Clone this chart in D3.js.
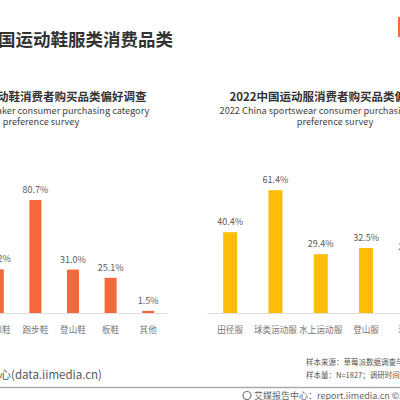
<!DOCTYPE html>
<head>
  <meta charset="utf-8">
  <script src="https://d3js.org/d3.v7.min.js"></script>
  <style>
    body { margin: 0; background: #fff; }
    svg { display: block; }
    text { font-family: "Noto Sans CJK SC", "Noto Sans", sans-serif; }
  </style>
</head>
<body>
<script>
  // left chart: sneakers
  var shoeCats = ["篮球鞋", "跑步鞋", "登山鞋", "板鞋", "其他"];
  var shoeVals = [31.2, 80.7, 31.0, 25.1, 1.5];
  // right chart: sportswear
  var wearCats = ["田径服", "球类运动服", "水上运动服", "登山服", "瑜伽服"];
  var wearVals = [40.4, 61.4, 29.4, 32.5, 27.8];

  var width = 400, height = 400, baseY = 313;

  var svg = d3.select("body").append("svg")
    .attr("width", width)
    .attr("height", height);

  // main title (cropped on the left)
  svg.append("text")
    .attr("x", 173).attr("y", 46)
    .attr("text-anchor", "end")
    .attr("font-size", 17.5).attr("font-weight", 700)
    .attr("fill", "#333")
    .text("2022年中国运动鞋服类消费品类");

  // little orange mark at the top right
  svg.append("rect")
    .attr("x", 398).attr("y", 17).attr("width", 4).attr("height", 20)
    .attr("fill", "#F26B3A");

  function drawChart(cats, vals, opt) {
    var x = d3.scalePoint().domain(cats).range(opt.xRange).padding(0.5);
    var y = d3.scaleLinear().domain([0, 100]).range([baseY, baseY - opt.pxPer100]);
    var g = svg.append("g");

    // titles
    g.append("text").attr("x", opt.cx).attr("y", 101)
      .attr("text-anchor", "middle").attr("font-size", 11.5).attr("font-weight", 700)
      .attr("fill", "#333").text(opt.title);
    g.append("text").attr("x", opt.cx).attr("y", 114)
      .attr("text-anchor", "middle").attr("font-size", 9.2).attr("fill", "#444")
      .text(opt.en1);
    g.append("text").attr("x", opt.cx).attr("y", 124.5)
      .attr("text-anchor", "middle").attr("font-size", 9.2).attr("fill", "#444")
      .text("preference survey");

    // axis line
    g.append("line")
      .attr("x1", opt.xRange[0]).attr("x2", opt.xRange[1])
      .attr("y1", baseY + 0.5).attr("y2", baseY + 0.5)
      .attr("stroke", "#ddd").attr("stroke-width", 1);

    g.selectAll(".bar").data(vals).enter().append("rect")
      .attr("x", function(d, i) { return x(cats[i]) - opt.barW / 2; })
      .attr("y", function(d) { return y(d); })
      .attr("width", opt.barW)
      .attr("height", function(d) { return baseY - y(d); })
      .attr("fill", opt.color);

    g.selectAll(".val").data(vals).enter().append("text")
      .attr("x", function(d, i) { return x(cats[i]); })
      .attr("y", function(d) { return y(d) - 7; })
      .attr("text-anchor", "middle").attr("font-size", 9).attr("fill", "#595959")
      .text(function(d) { return d.toFixed(1) + "%"; });

    g.selectAll(".cat").data(cats).enter().append("text")
      .attr("x", function(d) { return x(d); })
      .attr("y", 333)
      .attr("text-anchor", "middle").attr("font-size", 8.6).attr("fill", "#777")
      .text(function(d) { return d; });
  }

  drawChart(shoeCats, shoeVals, {
    xRange: [-21, 167], pxPer100: 140, barW: 12, color: "#F4683C", cx: 41,
    title: "2022中国运动鞋消费者购买品类偏好调查",
    en1: "2022 China sneaker consumer purchasing category"
  });
  drawChart(wearCats, wearVals, {
    xRange: [207.5, 434], pxPer100: 200, barW: 14, color: "#FBBD08", cx: 335,
    title: "2022中国运动服消费者购买品类偏好调查",
    en1: "2022 China sportswear consumer purchasing category"
  });

  // sources
  svg.append("text").attr("x", 102).attr("y", 379)
    .attr("text-anchor", "end").attr("font-size", 11.5).attr("fill", "#595959")
    .text("数据来源：艾媒数据中心(data.iimedia.cn)");
  svg.append("text").attr("x", 306).attr("y", 365)
    .attr("font-size", 7.5).attr("fill", "#555")
    .text("样本来源：草莓派数据调查与计算系统(Survey.iimedia.cn)");
  svg.append("text").attr("x", 306).attr("y", 378)
    .attr("font-size", 7.5).attr("fill", "#555")
    .text("样本量：N=1827；调研时间：2022年");

  // footer
  svg.append("line").attr("x1", 0).attr("x2", width)
    .attr("y1", 387.5).attr("y2", 387.5)
    .attr("stroke", "#aaa").attr("stroke-width", 1.5);
  svg.append("circle").attr("cx", 247).attr("cy", 395.5).attr("r", 4)
    .attr("fill", "none").attr("stroke", "#777").attr("stroke-width", 1.2);
  svg.append("text").attr("x", 254).attr("y", 399)
    .attr("font-size", 9).attr("fill", "#666")
    .text("艾媒报告中心：report.iimedia.cn  ©2022 iiMedia Research Inc");
</script>
</body>
